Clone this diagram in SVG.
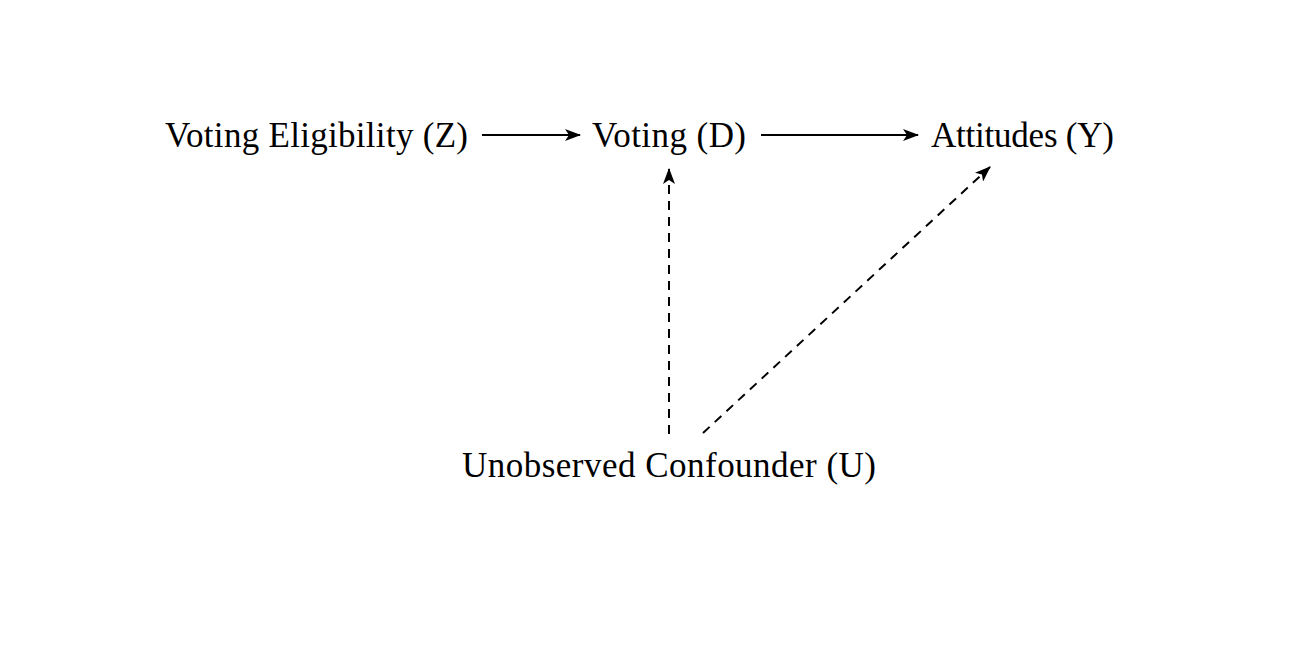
<svg xmlns="http://www.w3.org/2000/svg" width="1304" height="656" viewBox="0 0 1304 656">
<style>
text{font-family:"Liberation Serif","DejaVu Serif",serif;font-size:35px;fill:#000;text-anchor:middle}
.e{stroke:#000;stroke-width:2;fill:none}
.d{stroke-dasharray:9,7}
</style>
<defs>
<marker id="ah" viewBox="0 0 16 12" refX="15" refY="6" markerWidth="16" markerHeight="12" markerUnits="userSpaceOnUse" orient="auto">
<path d="M0,0 L16,6 L0,12 L4,6 Z" fill="#000"/>
</marker>
</defs>
<rect width="1304" height="656" fill="#fff"/>
<g id="connectors">
<line class="e" x1="482" y1="135" x2="580" y2="135" marker-end="url(#ah)"/>
<line class="e" x1="761" y1="135" x2="918" y2="135" marker-end="url(#ah)"/>
<line class="e d" x1="669" y1="434" x2="669" y2="169" marker-end="url(#ah)"/>
<line class="e d" x1="703" y1="433" x2="990" y2="167" marker-end="url(#ah)"/>
</g>
<g id="Z"><text x="316.5" y="147" textLength="303">Voting Eligibility (Z)</text></g>
<g id="D"><text x="669" y="147" textLength="154">Voting (D)</text></g>
<g id="Y"><text x="1022.5" y="147" textLength="183">Attitudes (Y)</text></g>
<g id="U"><text x="669" y="477" textLength="414">Unobserved Confounder (U)</text></g>
</svg>
